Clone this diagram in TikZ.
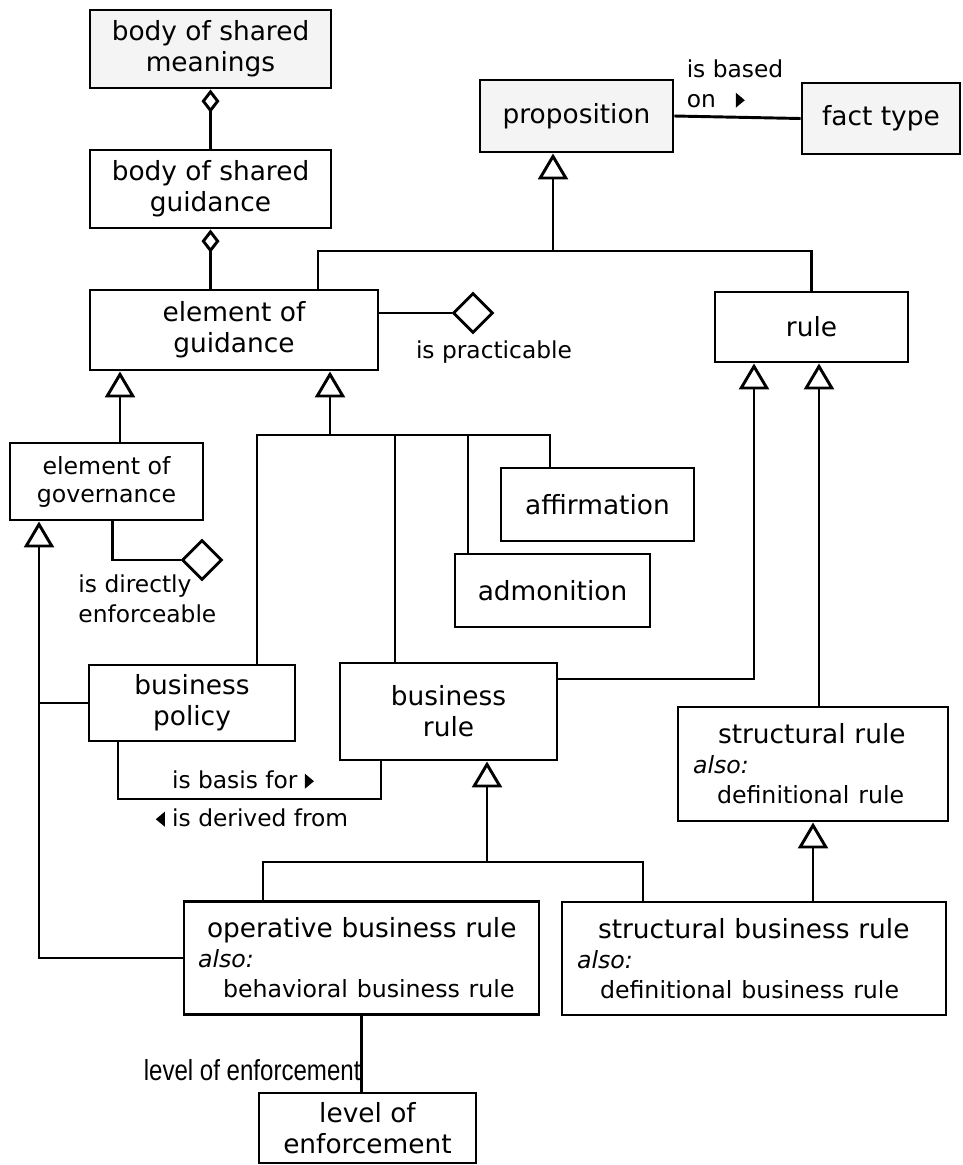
\documentclass[tikz,border=0pt]{standalone}
\usepackage{fontspec}
\setmainfont{DejaVu Sans}
\newfontfamily\narrowfont{Liberation Sans}
\usetikzlibrary{arrows.meta,shapes.geometric}

\definecolor{sharedgray}{HTML}{F4F4F4}

\tikzstyle{concept} = [draw, line width=2.2pt, fill=white, align=center, inner sep=2pt, font=\fontsize{19.8}{23.25}\selectfont]
\tikzstyle{shared} = [concept, fill=sharedgray]
\tikzstyle{synonym} = [concept, align=left, inner ysep=2pt, font=\fontsize{19.8}{22.5}\selectfont]
\tikzstyle{verblabel} = [inner sep=0pt, align=left, font=\fontsize{17.5}{22.5}\selectfont]
\tikzstyle{charact} = [draw, diamond, line width=2.2pt, minimum width=30pt, minimum height=30pt, inner sep=0pt, fill=white]
\tikzstyle{gen} = [-{Triangle[open,length=19.5pt,width=22.5pt]}]
\tikzstyle{agg} = [-{Diamond[open,length=17.5pt,width=13.5pt]}]

\newcommand{\altname}[1]{{\fontsize{17.75}{22.5}\selectfont #1}}
\newcommand{\rtri}{\tikz[baseline=0pt]\fill (0pt,0pt) -- (0pt,11.25pt) -- (6.75pt,5.6pt) -- cycle;}
\newcommand{\ltri}{\tikz[baseline=0pt]\fill (6.75pt,0pt) -- (6.75pt,11.25pt) -- (0pt,5.6pt) -- cycle;}

\begin{document}
\begin{tikzpicture}[x=0.75pt,y=-0.75pt,line width=2.2pt]
\useasboundingbox (0,0) rectangle (963,1165);

\node[shared, minimum width=180.75pt, minimum height=58.5pt] (meanings) at (210.5,49) {body of shared\\meanings};
\node[concept, minimum width=180.75pt, minimum height=58.5pt] (guidance) at (210.5,189) {body of shared\\guidance};
\node[concept, minimum width=216pt, minimum height=60pt] (eog) at (234,330) {element of\\guidance};
\node[shared, minimum width=144.75pt, minimum height=54pt] (proposition) at (576.5,116) {proposition};
\node[shared, minimum width=118.5pt, minimum height=53.25pt] (facttype) at (881,118.5) {fact type};
\node[concept, minimum width=144.75pt, minimum height=52.5pt] (rule) at (811.5,327) {rule};
\node[concept, minimum width=144.75pt, minimum height=57.75pt, font=\fontsize{17.75}{21}\selectfont] (egov) at (106.5,481.5) {element of\\governance};
\node[concept, minimum width=144.75pt, minimum height=54.75pt] (affirmation) at (597.5,504.5) {affirmation};
\node[concept, minimum width=146.25pt, minimum height=54.75pt] (admonition) at (552.5,590.5) {admonition};
\node[concept, minimum width=154.5pt, minimum height=57pt] (bpolicy) at (192,703) {business\\policy};
\node[concept, minimum width=162.75pt, minimum height=72.75pt] (brule) at (448.5,711.5) {business\\rule};
\node[synonym, text width=180pt, inner xsep=11.25pt, minimum height=85.5pt] (srule) at (813,764) {\hspace*{18.75pt}structural rule\\\altname{\textit{also:}}\\\altname{\hspace*{18pt}definitional rule}};
\node[synonym, text width=245.25pt, inner xsep=10.5pt, minimum height=84.75pt] (obr) at (361.5,958) {\hspace*{6.75pt}operative business rule\\\altname{\textit{also:}}\\\altname{\hspace*{18.75pt}behavioral business rule}};
\node[synonym, text width=265.5pt, inner xsep=11.25pt, minimum height=84.75pt] (sbr) at (754,958.5) {\hspace*{15.75pt}structural business rule\\\altname{\textit{also:}}\\\altname{\hspace*{17.25pt}definitional business rule}};
\node[concept, minimum width=162.75pt, minimum height=52.5pt] (loe) at (367.5,1128) {level of\\enforcement};

\draw[agg] (guidance.north) -- (meanings.south);
\draw[agg] (eog.north -| guidance.south) -- (guidance.south);

\coordinate (pj) at (553,251);
\coordinate (gl) at (318,251);
\draw (eog.north -| gl) -- (gl) -- (pj) -| (rule.north);
\draw[gen] (pj) -- (pj |- proposition.south);
\draw (proposition.east) -- (facttype.west);
\node[verblabel] (basedon) at (735,84) {is based\\on\hspace{15pt}\rtri};

\node[charact] (practicable) at (473,313) {};
\draw (eog.east |- practicable) -- (practicable.west);
\node[verblabel] (practlabel) at (494,352) {is practicable};

\coordinate (gx) at (120,420);
\draw[gen] (egov.north -| gx) -- (eog.south -| gx);

\coordinate (bus) at (330,435);
\coordinate (busl) at (257,435);
\coordinate (busm) at (395,435);
\coordinate (busn) at (468,435);
\coordinate (busr) at (550,435);
\draw[gen] (bus) -- (bus |- eog.south);
\draw (bpolicy.north -| busl) -- (busl) -- (busr) -- (busr |- affirmation.north);
\draw (busm) -- (busm |- brule.north);
\draw (busn) -- (busn |- admonition.north);

\node[charact] (enforceable) at (202,560) {};
\draw ([xshift=4.5pt]egov.south) |- (enforceable.west);
\node[verblabel, anchor=west] (enflabel) at (77,599) {is directly\\enforceable};

\coordinate (gv) at (39,958);
\draw[gen] (obr.west) -- (gv) -- (gv |- egov.south);
\draw (bpolicy.west) -- (bpolicy.west -| gv);

\coordinate (bl) at (118,799);
\coordinate (br) at (381,799);
\draw (bpolicy.south -| bl) -- (bl) -- (br) -- (br |- brule.south);
\node[verblabel] (basis) at (243,780) {is basis for \rtri};
\node[verblabel] (derived) at (252,818) {\ltri{} is derived from};

\coordinate (rj) at (754,679);
\draw[gen] (brule.east |- rj) -- (rj) -- (rj |- rule.south);
\draw[gen] ([xshift=4.5pt]srule.north) -- ([xshift=4.5pt]srule.north |- rule.south);
\draw[gen] (sbr.north -| srule.south) -- (srule.south);

\coordinate (oj) at (487,862);
\coordinate (ol) at (263,862);
\coordinate (or) at (643,862);
\draw[gen] (oj) -- (oj |- brule.south);
\draw (obr.north -| ol) -- (ol) -- (or) -- (or |- sbr.north);

\draw (obr.south) -- (obr.south |- loe.north);
\node[anchor=east, inner sep=0pt, font=\narrowfont\fontsize{21.75}{24}\selectfont] (loelabel) at (362,1070) {\scalebox{0.83}[1]{level of enforcement}};
\end{tikzpicture}
\end{document}
